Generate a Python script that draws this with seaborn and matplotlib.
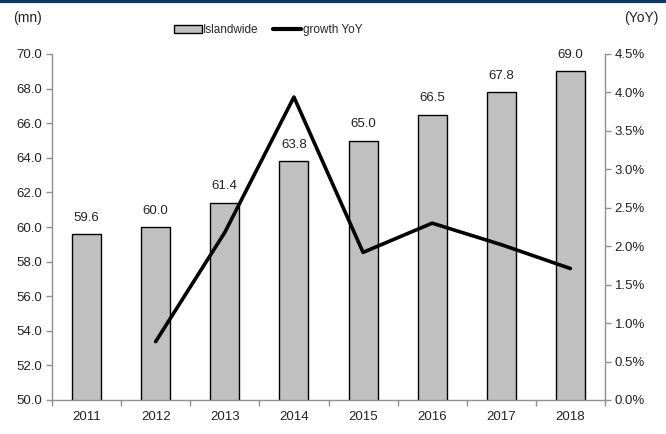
import matplotlib
matplotlib.use("Agg")
import matplotlib.pyplot as plt
import seaborn as sns
import pandas as pd
from matplotlib.ticker import FormatStrFormatter
from matplotlib.patches import Patch
from matplotlib.lines import Line2D

years = ["2011", "2012", "2013", "2014", "2015", "2016", "2017", "2018"]
islandwide = [59.6, 60.0, 61.4, 63.8, 65.0, 66.5, 67.8, 69.0]
growth_years = ["2012", "2013", "2014", "2015", "2016", "2017", "2018"]
growth_yoy = [0.76, 2.18, 3.94, 1.92, 2.30, 2.02, 1.71]

sns.set_style("white")
plt.rcParams['font.family'] = ['Liberation Sans Narrow', 'Liberation Sans', 'DejaVu Sans']

fig = plt.figure(figsize=(6.66, 4.34), dpi=100)
ax = fig.add_axes([52/666, 34/434, (605-52)/666, (400-54)/434])

df = pd.DataFrame({"year": years, "val": islandwide})
sns.barplot(data=df, x="year", y="val", ax=ax, color="#c0c0c0", width=0.42,
            edgecolor="black", linewidth=1.0, saturation=1)
ax.set_ylim(50, 70)
ax.set_xlim(-0.5, 7.5)
ax.set_yticks([50 + 2*i for i in range(11)])
ax.yaxis.set_major_formatter(FormatStrFormatter('%.1f'))
ax.set_xlabel("")
ax.set_ylabel("")
for i, v in enumerate(islandwide):
    ax.text(i, v + 0.6, f"{v:.1f}", ha="center", va="bottom", fontsize=9.5, color="#222222")

ax2 = ax.twinx()
gdf = pd.DataFrame({"x": [years.index(y) for y in growth_years], "g": growth_yoy})
sns.lineplot(data=gdf, x="x", y="g", ax=ax2, color="black", linewidth=2.6)
ax2.set_ylim(0, 4.5)
ax2.set_yticks([0.5*i for i in range(10)])
ax2.yaxis.set_major_formatter(FormatStrFormatter('%.1f%%'))
ax2.set_xlim(-0.5, 7.5)
ax2.set_ylabel("")
ax2.set_xlabel("")

for a in (ax, ax2):
    for s in a.spines.values():
        s.set_visible(False)
    a.tick_params(labelsize=9.5, colors="#222222")
ax.spines['left'].set_visible(True)
ax.spines['bottom'].set_visible(True)
ax2.spines['right'].set_visible(True)
for s in (ax.spines['left'], ax.spines['bottom'], ax2.spines['right']):
    s.set_color("#909090")
    s.set_linewidth(1.0)

ax.tick_params(axis='y', direction='out', length=4, width=1, color="#909090", left=True, pad=3)
ax2.tick_params(axis='y', direction='out', length=4, width=1, color="#909090", right=True, pad=3)
ax.set_xticks(range(8))
ax.set_xticklabels(years)
ax.set_xticks([i + 0.5 for i in range(-1, 8)], minor=True)
ax.tick_params(axis='x', which='major', length=0, pad=8)
ax.tick_params(axis='x', which='minor', direction='out', length=4, width=1, color="#909090", bottom=True)

fig.text(27/666, 1 - 18/434, "(mn)", ha="center", va="center", fontsize=10, color="#222222")
fig.text(641/666, 1 - 18/434, "(YoY)", ha="center", va="center", fontsize=10, color="#222222")

handles = [Patch(facecolor="#c0c0c0", edgecolor="black", linewidth=1.0, label="Islandwide"),
           Line2D([0], [0], color="black", linewidth=3, label="growth YoY")]
fig.legend(handles=handles, loc="center", bbox_to_anchor=(268/666, 1 - 30/434), ncol=2,
           frameon=False, fontsize=8.5, handlelength=2.4, handleheight=0.7,
           handletextpad=0.1, columnspacing=1.2)

fig.add_artist(Line2D([0, 1], [0.997, 0.997], transform=fig.transFigure, color="#0b3a6a", linewidth=3))

fig.savefig("out.png", dpi=100)
